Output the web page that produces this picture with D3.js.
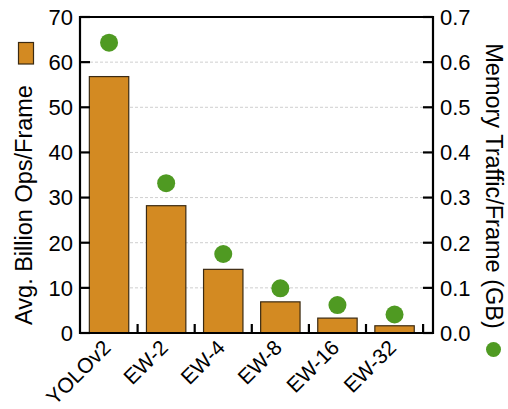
<!DOCTYPE html>
<html>
<head>
<meta charset="utf-8">
<script src="https://cdn.jsdelivr.net/npm/d3@7"></script>
<style>
  html, body { margin: 0; padding: 0; background: #fff; }
  svg { display: block; font-family: "Liberation Sans", Arial, Helvetica, sans-serif; }
</style>
</head>
<body>
<svg id="chart" width="508" height="409"></svg>
<script>
// Workload per configuration
const categories = ["YOLOv2", "EW-2", "EW-4", "EW-8", "EW-16", "EW-32"];
const opsPerFrame = [56.8, 28.2, 14.1, 6.9, 3.3, 1.6];          // billion ops / frame
const memTraffic = [0.643, 0.332, 0.175, 0.099, 0.062, 0.041];   // GB / frame
const leftTicks = [0, 10, 20, 30, 40, 50, 60, 70];
const rightTicks = [0, 0.1, 0.2, 0.3, 0.4, 0.5, 0.6, 0.7];

const svg = d3.select("#chart");
const plot = { left: 80, right: 433, top: 17, bottom: 333 };

const x = d3.scaleBand()
  .domain(categories)
  .range([plot.left + 0.5, plot.left + 0.5 + 6 * 57.1])
  .paddingInner(0.31)
  .paddingOuter(0.155);
const step = x.step();
const bandStart = plot.left + 0.5;

const yL = d3.scaleLinear().domain([0, 70]).range([plot.bottom, plot.top]);
const yR = d3.scaleLinear().domain([0, 0.7]).range([plot.bottom, plot.top]);

const barFill = "#D38A22";
const dotFill = "#4F9A22";

// dashed grid lines
svg.append("g")
  .selectAll("line")
  .data(leftTicks.filter(d => d > 0 && d < 70))
  .join("line")
  .attr("x1", plot.left).attr("x2", plot.right)
  .attr("y1", d => yL(d)).attr("y2", d => yL(d))
  .attr("stroke", "#cfcfcf").attr("stroke-width", 1)
  .attr("stroke-dasharray", "3,2");

// bars
svg.append("g")
  .selectAll("rect")
  .data(categories)
  .join("rect")
  .attr("x", d => x(d))
  .attr("width", x.bandwidth())
  .attr("y", (d, i) => yL(opsPerFrame[i]))
  .attr("height", (d, i) => plot.bottom - yL(opsPerFrame[i]))
  .attr("fill", barFill)
  .attr("stroke", "#3b2a12")
  .attr("stroke-width", 1.2);

// memory traffic dots
svg.append("g")
  .selectAll("circle")
  .data(categories)
  .join("circle")
  .attr("cx", d => x(d) + x.bandwidth() / 2)
  .attr("cy", (d, i) => yR(memTraffic[i]))
  .attr("r", 9)
  .attr("fill", dotFill);

// frame around the plot
svg.append("path")
  .attr("d", `M${plot.left},${plot.top}H${plot.right}V${plot.bottom}H${plot.left}Z`)
  .attr("fill", "none")
  .attr("stroke", "#000").attr("stroke-width", 2.2);

// left axis ticks (inward) and labels
const tickLen = 10;
svg.append("g").selectAll("line")
  .data(leftTicks)
  .join("line")
  .attr("x1", plot.left).attr("x2", plot.left + tickLen)
  .attr("y1", d => yL(d)).attr("y2", d => yL(d))
  .attr("stroke", "#000").attr("stroke-width", 2.2);
svg.append("g").selectAll("text")
  .data(leftTicks)
  .join("text")
  .attr("x", 73)
  .attr("y", d => yL(d))
  .attr("dy", "0.36em")
  .attr("text-anchor", "end")
  .attr("font-size", 22)
  .text(d => d);

// right axis ticks (inward) and labels
svg.append("g").selectAll("line")
  .data(rightTicks)
  .join("line")
  .attr("x1", plot.right).attr("x2", plot.right - tickLen)
  .attr("y1", d => yR(d)).attr("y2", d => yR(d))
  .attr("stroke", "#000").attr("stroke-width", 2.2);
svg.append("g").selectAll("text")
  .data(rightTicks)
  .join("text")
  .attr("x", 440)
  .attr("y", d => yR(d))
  .attr("dy", "0.36em")
  .attr("text-anchor", "start")
  .attr("font-size", 22)
  .text(d => d3.format(".1f")(d));

// bottom ticks at category boundaries (inward)
svg.append("g").selectAll("line")
  .data(categories)
  .join("line")
  .attr("x1", (d, i) => bandStart + (i + 1) * step)
  .attr("x2", (d, i) => bandStart + (i + 1) * step)
  .attr("y1", plot.bottom).attr("y2", plot.bottom - 9)
  .attr("stroke", "#000").attr("stroke-width", 2.2);

// category labels, rotated
svg.append("g").selectAll("text")
  .data(categories)
  .join("text")
  .attr("transform", d => `translate(${x(d) + x.bandwidth() / 2 + 3},${plot.bottom + 16}) rotate(-45)`)
  .attr("text-anchor", "end")
  .attr("font-size", 21)
  .text(d => d);

// left axis title
svg.append("text")
  .attr("transform", "translate(32,205) rotate(-90)")
  .attr("text-anchor", "middle")
  .attr("font-size", 23.5)
  .text("Avg. Billion Ops/Frame");

// right axis title
svg.append("text")
  .attr("transform", "translate(486,186) rotate(90)")
  .attr("text-anchor", "middle")
  .attr("font-size", 23.5)
  .text("Memory Traffic/Frame (GB)");

// legend markers
svg.append("rect")
  .attr("x", 18.5).attr("y", 42.5).attr("width", 15).attr("height", 21.5)
  .attr("fill", barFill).attr("stroke", "#3b2a12").attr("stroke-width", 1.2);
svg.append("circle")
  .attr("cx", 493.5).attr("cy", 349.5).attr("r", 7.5)
  .attr("fill", dotFill);
</script>
</body>
</html>
